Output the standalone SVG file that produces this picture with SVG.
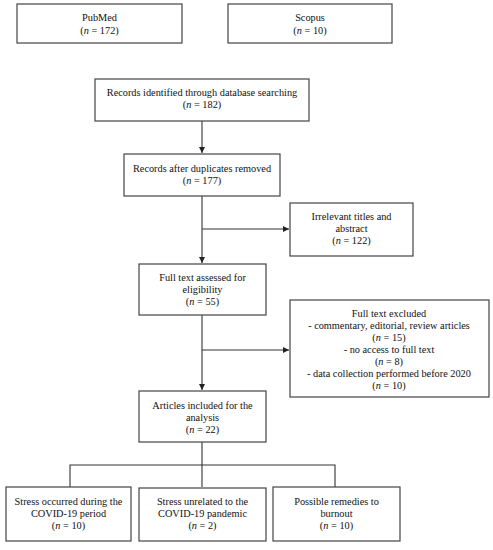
<svg xmlns="http://www.w3.org/2000/svg" width="493" height="550" viewBox="0 0 493 550">
<style>
.box{fill:#fff;stroke:#444;stroke-width:1.2}
.t{font-family:"Liberation Serif","Times New Roman",serif;font-size:10.3px;fill:#111;text-anchor:middle}
.i{font-style:italic}
.c{stroke:#333;stroke-width:1.1;fill:none}
</style>
<defs>
<marker id="ah" viewBox="0 0 10 10" refX="10" refY="5" markerWidth="6" markerHeight="6" orient="auto" markerUnits="userSpaceOnUse">
<path d="M0,0 L10,5 L0,10 z" fill="#222"/>
</marker>
</defs>
<rect width="493" height="550" fill="#fff"/>
<g id="connectors">
<path class="c" d="M202,121 V153" marker-end="url(#ah)"/>
<path class="c" d="M202,196 V263" marker-end="url(#ah)"/>
<path class="c" d="M202,229 H289" marker-end="url(#ah)"/>
<path class="c" d="M202,315 V390" marker-end="url(#ah)"/>
<path class="c" d="M202,350 H289" marker-end="url(#ah)"/>
<path class="c" d="M202,442 V487 M70,487 V465 H335 V487"/>
</g>
<g id="pubmed">
<rect class="box" x="17" y="4" width="165" height="39"/>
<text class="t" x="99.5" y="21">PubMed</text>
<text class="t" x="99.5" y="33.5">(<tspan class="i">n</tspan> = 172)</text>
</g>
<g id="scopus">
<rect class="box" x="228" y="4" width="164" height="39"/>
<text class="t" x="310" y="21">Scopus</text>
<text class="t" x="310" y="33.5">(<tspan class="i">n</tspan> = 10)</text>
</g>
<g id="identified">
<rect class="box" x="95" y="79" width="214" height="42"/>
<text class="t" x="202" y="95.5">Records identified through database searching</text>
<text class="t" x="202" y="107.5">(<tspan class="i">n</tspan> = 182)</text>
</g>
<g id="duplicates">
<rect class="box" x="124" y="154" width="156" height="42"/>
<text class="t" x="202" y="171.5">Records after duplicates removed</text>
<text class="t" x="202" y="183.5">(<tspan class="i">n</tspan> = 177)</text>
</g>
<g id="irrelevant">
<rect class="box" x="290" y="203" width="123" height="53"/>
<text class="t" x="351.5" y="219.5">Irrelevant titles and</text>
<text class="t" x="351.5" y="231.5">abstract</text>
<text class="t" x="351.5" y="243.5">(<tspan class="i">n</tspan> = 122)</text>
</g>
<g id="fulltext">
<rect class="box" x="139" y="264" width="127" height="51"/>
<text class="t" x="202.5" y="280.5">Full text assessed for</text>
<text class="t" x="202.5" y="292.5">eligibility</text>
<text class="t" x="202.5" y="305">(<tspan class="i">n</tspan> = 55)</text>
</g>
<g id="excluded">
<rect class="box" x="290" y="300" width="199" height="97"/>
<text class="t" x="389" y="316.5">Full text excluded</text>
<text class="t" x="389" y="329">- commentary, editorial, review articles</text>
<text class="t" x="389" y="341">(<tspan class="i">n</tspan> = 15)</text>
<text class="t" x="389" y="353">- no access to full text</text>
<text class="t" x="389" y="365">(<tspan class="i">n</tspan> = 8)</text>
<text class="t" x="389" y="377">- data collection performed before 2020</text>
<text class="t" x="389" y="389">(<tspan class="i">n</tspan> = 10)</text>
</g>
<g id="included">
<rect class="box" x="139" y="391" width="127" height="51"/>
<text class="t" x="202.5" y="408.5">Articles included for the</text>
<text class="t" x="202.5" y="420.5">analysis</text>
<text class="t" x="202.5" y="432.5">(<tspan class="i">n</tspan> = 22)</text>
</g>
<g id="covid">
<rect class="box" x="6" y="487" width="125" height="54"/>
<text class="t" x="68.5" y="504.5">Stress occurred during the</text>
<text class="t" x="68.5" y="516.5">COVID-19 period</text>
<text class="t" x="68.5" y="528.5">(<tspan class="i">n</tspan> = 10)</text>
</g>
<g id="unrelated">
<rect class="box" x="139" y="488" width="127" height="53"/>
<text class="t" x="202.5" y="504.5">Stress unrelated to the</text>
<text class="t" x="202.5" y="516.5">COVID-19 pandemic</text>
<text class="t" x="202.5" y="528.5">(<tspan class="i">n</tspan> = 2)</text>
</g>
<g id="remedies">
<rect class="box" x="273" y="487" width="127" height="54"/>
<text class="t" x="336.5" y="504.5">Possible remedies to</text>
<text class="t" x="336.5" y="516.5">burnout</text>
<text class="t" x="336.5" y="528.5">(<tspan class="i">n</tspan> = 10)</text>
</g>
</svg>
